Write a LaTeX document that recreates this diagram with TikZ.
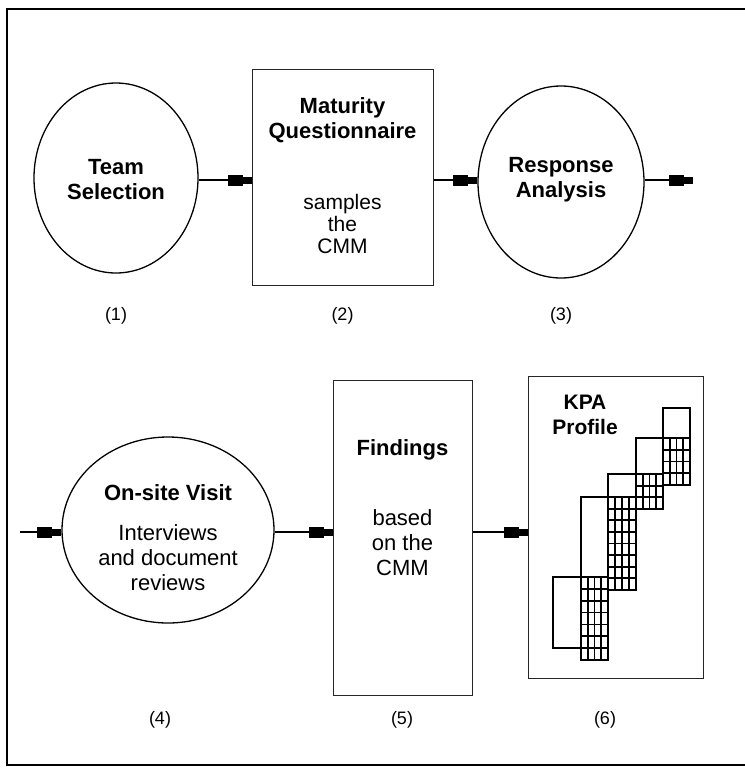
\documentclass[tikz,border=0pt]{standalone}
\usepackage{fontspec}
\setmainfont{Liberation Sans}
\usetikzlibrary{shapes.geometric,arrows.meta}
\newcommand\kpagrid[5]{%
  \draw[gridl] (#1,#3) rectangle (#2,#4);
  \foreach \i in {1,2,3} {\draw[gridl] ({#1+\i*(#2-#1)/4},#3) -- ({#1+\i*(#2-#1)/4},#4);}
  \foreach \j in {1,...,#5} {\draw[gridl] (#1,{#3+\j*(#4-#3)/#5}) -- (#2,{#3+\j*(#4-#3)/#5});}
}
\begin{document}
\begin{tikzpicture}[x=1pt,y=-1pt,
  shp/.style={draw=black,line width=1.3pt,ellipse,inner sep=0pt},
  boxs/.style={draw=black!85,line width=1pt,inner sep=0pt},
  conn/.style={line width=1.8pt,-{Rectangle[length=15pt,width=11pt,sep=0pt]Rectangle[length=9pt,width=7pt]}},
  ttl/.style={font=\fontsize{22}{25}\selectfont\bfseries,align=center,inner sep=0pt},
  txt/.style={font=\fontsize{22}{25}\selectfont,align=center,inner sep=0pt},
  lbl/.style={font=\fontsize{18}{22}\selectfont,inner sep=0pt},
  gridl/.style={line width=1.8pt}]
\useasboundingbox (0,0) rectangle (745,772);
\draw[line width=1.5pt] (745,9) -- (7,9) -- (7,765) -- (745,765);

% row 1
\node[shp,minimum width=164pt,minimum height=190pt] (e1) at (116,178) {};
\node[ttl] (t1) at (116,180) {Team\\Selection};
\node[boxs,minimum width=181pt,minimum height=216pt] (b2) at (342.5,177) {};
\node[ttl] (t2) at (342.5,120) {Maturity\\Questionnaire};
\node[txt,font=\fontsize{21}{22}\selectfont] (s2) at (342.5,224) {samples\\the\\CMM};
\node[shp,minimum width=166pt,minimum height=192pt] (e3) at (561,182) {};
\node[ttl] (t3) at (561,180) {Response\\Analysis};
\coordinate (out1) at (693,180);
\draw[conn] (e1.east |- 0,180) -- (b2.west |- 0,180);
\draw[conn] (b2.east |- 0,180) -- (e3.west |- 0,180);
\draw[conn] (e3.east |- 0,180) -- (out1);
\node[lbl] (l1) at (116,316) {(1)};
\node[lbl] (l2) at (342.5,316) {(2)};
\node[lbl] (l3) at (561,316) {(3)};

% row 2
\coordinate (in2) at (20,532);
\node[shp,minimum width=212pt,minimum height=186pt] (e4) at (168,530) {};
\node[ttl] (t4) at (168,493) {On-site Visit};
\node[txt] (s4) at (168,558) {Interviews\\and document\\reviews};
\node[boxs,minimum width=139pt,minimum height=315pt] (b5) at (402.5,537.5) {};
\node[ttl] (t5) at (402.5,450) {Findings};
\node[txt] (s5) at (402.5,543) {based\\on the\\CMM};
\node[boxs,minimum width=175pt,minimum height=302pt] (b6) at (615.5,527) {};
\node[ttl,font=\fontsize{21}{25}\selectfont\bfseries] (t6) at (585,415) {KPA\\Profile};
\draw[conn] (in2) -- (e4.west |- 0,532);
\draw[conn] (e4.east |- 0,532) -- (b5.west |- 0,532);
\draw[conn] (b5.east |- 0,532) -- (b6.west |- 0,532);
\node[lbl] (l4) at (160,720) {(4)};
\node[lbl] (l5) at (402,720) {(5)};
\node[lbl] (l6) at (605,720) {(6)};

% KPA staircase
\draw[gridl] (553,577) rectangle (581,648);
\kpagrid{581}{608}{577}{660}{7}
\draw[gridl] (581,497) rectangle (608,577);
\kpagrid{608}{636}{497}{590}{8}
\draw[gridl] (608,474) rectangle (636,497);
\kpagrid{636}{663}{474}{509}{3}
\draw[gridl] (636,438) rectangle (663,474);
\kpagrid{663}{690}{438}{485}{4}
\draw[gridl] (663,408) rectangle (690,438);
\end{tikzpicture}
\end{document}
